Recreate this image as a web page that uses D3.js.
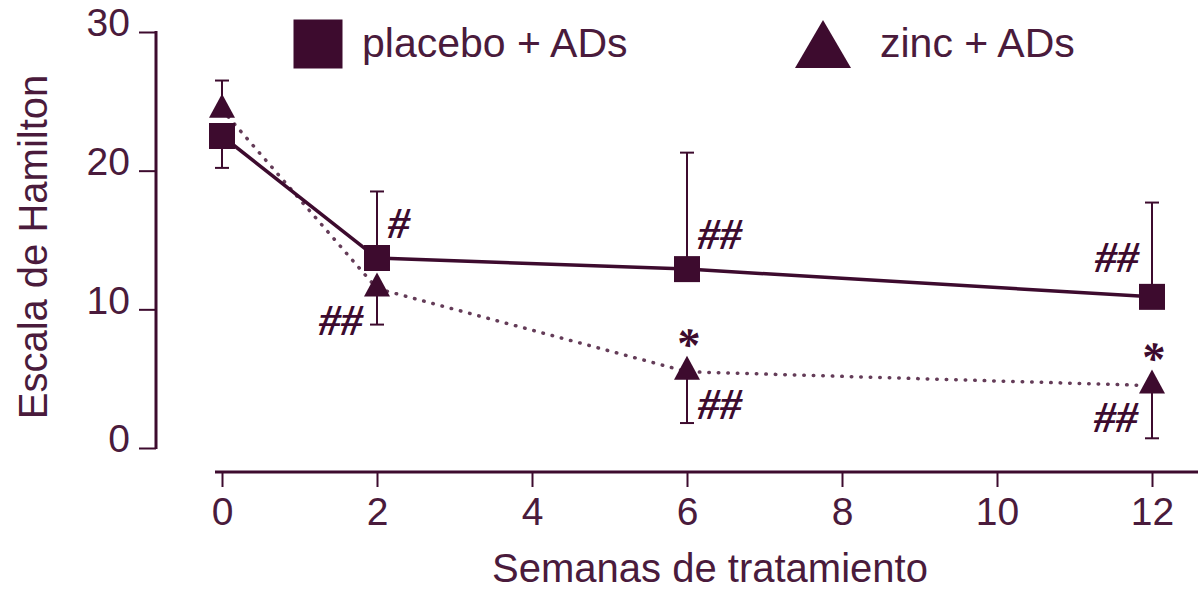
<!DOCTYPE html>
<html>
<head>
<meta charset="utf-8">
<script src="https://cdn.jsdelivr.net/npm/d3@7"></script>
<style>
  html, body { margin: 0; padding: 0; background: #fff; }
  svg { display: block; }
</style>
</head>
<body>
<svg id="chart" width="1198" height="591"></svg>
<script>
// Hamilton depression scale over weeks of treatment, mean with one-sided SD bars
const weeks = [0, 2, 6, 12];
const xTicks = [0, 2, 4, 6, 8, 10, 12];
const yTicks = [0, 10, 20, 30];

const placeboMean = [22.5, 13.7, 12.9, 10.9];
const placeboErrEnd = [20.2, 18.5, 21.3, 17.7];   // end of the error whisker
const zincMean = [24.4, 11.5, 5.5, 4.5];
const zincErrEnd = [26.5, 8.9, 1.8, 0.7];

const seriesNames = ["placebo + ADs", "zinc + ADs"];
const xTitle = "Semanas de tratamiento";
const yTitle = "Escala de Hamilton";

// Significance marks: which series, which week, symbol and where it sits
const marks = [
  { series: 0, week: 2,  text: "#",  side: "upper-right" },
  { series: 1, week: 2,  text: "##", side: "lower-left" },
  { series: 0, week: 6,  text: "##", side: "upper-right" },
  { series: 1, week: 6,  text: "*",  side: "above" },
  { series: 1, week: 6,  text: "##", side: "lower-right" },
  { series: 0, week: 12, text: "##", side: "upper-left" },
  { series: 1, week: 12, text: "*",  side: "above" },
  { series: 1, week: 12, text: "##", side: "lower-left" }
];

const ink = "#3d0b2e";
const textInk = "#4a1b3c";
const sans = "'Liberation Sans', Arial, sans-serif";
const serif = "'Liberation Serif', 'Times New Roman', serif";

const svg = d3.select("#chart");

const x = d3.scaleLinear().domain([0, 12]).range([222, 1152]);
const y = d3.scaleLinear().domain([0, 30]).range([448, 32]);

// ---- y axis (detached, on the left)
const yAxisX = 156;
const yAxis = svg.append("g").attr("transform", `translate(${yAxisX},0)`)
  .call(d3.axisLeft(y).tickValues(yTicks).tickSize(17).tickSizeOuter(0).tickPadding(9));
yAxis.select(".domain").attr("stroke", ink).attr("stroke-width", 3)
  .attr("d", `M0,${y(30) - 1}V${y(0) + 1}`);
yAxis.selectAll(".tick line").attr("stroke", ink).attr("stroke-width", 2);
yAxis.selectAll(".tick text")
  .attr("fill", textInk).attr("font-family", sans).attr("font-size", 39)
  .attr("dy", "0.1em");

// ---- x axis (detached, below)
const xAxisY = 472;
const xAxis = svg.append("g").attr("transform", `translate(0,${xAxisY})`)
  .call(d3.axisBottom(x).tickValues(xTicks).tickSize(15).tickSizeOuter(0).tickPadding(10));
xAxis.select(".domain").attr("stroke", ink).attr("stroke-width", 3)
  .attr("d", `M215,0H1198`);
xAxis.selectAll(".tick line").attr("stroke", ink).attr("stroke-width", 2);
xAxis.selectAll(".tick text")
  .attr("fill", textInk).attr("font-family", sans).attr("font-size", 39);

// ---- axis titles
svg.append("text")
  .attr("x", 710).attr("y", 582)
  .attr("text-anchor", "middle")
  .attr("font-family", sans).attr("font-size", 40).attr("fill", textInk)
  .text(xTitle);

svg.append("text")
  .attr("transform", "translate(47,247) rotate(-90)")
  .attr("text-anchor", "middle")
  .attr("font-family", sans).attr("font-size", 40).attr("fill", textInk)
  .text(yTitle);

// ---- data
const series = [
  { name: seriesNames[0], mean: placeboMean, errEnd: placeboErrEnd, shape: "square" },
  { name: seriesNames[1], mean: zincMean, errEnd: zincErrEnd, shape: "triangle" }
];

const cap = 7;
const plot = svg.append("g");

// error bars first so markers sit on top
series.forEach(s => {
  const g = plot.append("g");
  weeks.forEach((w, i) => {
    const cx = x(w), y0 = y(s.mean[i]), y1 = y(s.errEnd[i]);
    g.append("line").attr("x1", cx).attr("x2", cx).attr("y1", y0).attr("y2", y1)
      .attr("stroke", ink).attr("stroke-width", 2);
    g.append("line").attr("x1", cx - cap).attr("x2", cx + cap).attr("y1", y1).attr("y2", y1)
      .attr("stroke", ink).attr("stroke-width", 2);
  });
});

const line = d3.line().x((d, i) => x(weeks[i])).y(d => y(d));

// connecting lines: dotted for zinc, solid for placebo
plot.append("path").datum(zincMean)
  .attr("d", line).attr("fill", "none")
  .attr("stroke", ink).attr("stroke-width", 3.5)
  .attr("stroke-linecap", "round").attr("stroke-dasharray", "0.5,9")
  .attr("opacity", 0.8);

plot.append("path").datum(placeboMean)
  .attr("d", line).attr("fill", "none")
  .attr("stroke", ink).attr("stroke-width", 3.5);

// marker shapes
function squarePath(size) {
  const h = size / 2;
  return `M${-h},${-h}H${h}V${h}H${-h}Z`;
}
function trianglePath(w, h) {
  // centroid at origin
  return `M0,${-2 * h / 3}L${w / 2},${h / 3}L${-w / 2},${h / 3}Z`;
}

series.forEach(s => {
  plot.append("g").selectAll("path").data(s.mean).join("path")
    .attr("transform", (d, i) => `translate(${x(weeks[i])},${y(d)})`)
    .attr("d", s.shape === "square" ? squarePath(26) : trianglePath(26, 24))
    .attr("fill", ink);
});

// ---- significance marks
const placeOffsets = {
  "upper-right": { dx: 11, dy: -35, anchor: "start" },
  "upper-left":  { dx: -13, dy: -39, anchor: "end" },
  "lower-right": { dx: 11, dy: 33, anchor: "start" },
  "lower-left":  { dx: -14, dy: 32, anchor: "end" },
  "above":       { dx: 0, dy: -12, anchor: "middle" }
};

plot.append("g").selectAll("text").data(marks).join("text")
  .each(function (m) {
    const s = series[m.series];
    const i = weeks.indexOf(m.week);
    const o = placeOffsets[m.side];
    const star = m.text === "*";
    d3.select(this)
      .attr("x", x(m.week) + o.dx)
      .attr("y", y(s.mean[i]) + o.dy)
      .attr("text-anchor", o.anchor)
      .attr("dy", star ? null : "0.33em")
      .attr("font-size", star ? 46 : 44);
  })
  .attr("font-family", serif)
  .attr("font-style", "italic")
  .attr("font-weight", "bold")
  .attr("fill", ink)
  .text(m => m.text);

// ---- legend
const legend = svg.append("g");
legend.append("path").attr("d", squarePath(49)).attr("transform", "translate(318,44)").attr("fill", ink);
legend.append("text").attr("x", 362).attr("y", 57)
  .attr("font-family", sans).attr("font-size", 41).attr("fill", textInk)
  .text(seriesNames[0]);
legend.append("path").attr("d", "M0,-24L28,24L-28,24Z").attr("transform", "translate(823,44)").attr("fill", ink);
legend.append("text").attr("x", 880).attr("y", 57)
  .attr("font-family", sans).attr("font-size", 41).attr("fill", textInk)
  .text(seriesNames[1]);
</script>
</body>
</html>
